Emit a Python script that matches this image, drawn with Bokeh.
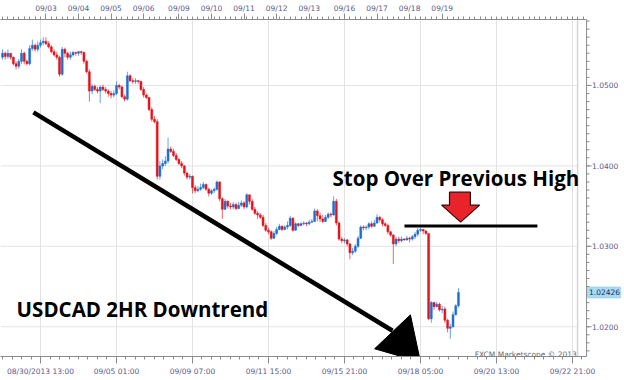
import numpy as np
from bokeh.plotting import figure
from bokeh.models import Range1d, LinearAxis, FixedTicker, Label, Span, ColumnDataSource
from bokeh.core.properties import value
from bokeh.embed import file_html
from bokeh.resources import INLINE

# ---------------- data (USDCAD 2-hour candles) ----------------
first_open = 1.0535
close = [1.0540, 1.0536, 1.0540, 1.0535, 1.0527, 1.0524, 1.0530, 1.0540, 1.0530, 1.0527,
         1.0546, 1.0550, 1.0545, 1.0550, 1.0553, 1.0555, 1.0552, 1.0548, 1.0542, 1.0538,
         1.0535, 1.0514, 1.0545, 1.0540, 1.0535, 1.0538, 1.0541, 1.0540, 1.0542, 1.0541,
         1.0530, 1.0517, 1.0493, 1.0499, 1.0495, 1.0493, 1.0498, 1.0495, 1.0493, 1.0490,
         1.0488, 1.0490, 1.0500, 1.0498, 1.0486, 1.0483, 1.0512, 1.0506, 1.0505, 1.0506,
         1.0505, 1.0495, 1.0488, 1.0485, 1.0470, 1.0458, 1.0455, 1.0387, 1.0400, 1.0403,
         1.0406, 1.0421, 1.0418, 1.0413, 1.0408, 1.0403, 1.0400, 1.0391, 1.0386, 1.0387,
         1.0373, 1.0369, 1.0371, 1.0373, 1.0377, 1.0371, 1.0366, 1.0369, 1.0371, 1.0380,
         1.0359, 1.0346, 1.0356, 1.0350, 1.0349, 1.0352, 1.0347, 1.0351, 1.0354, 1.0349,
         1.0364, 1.0356, 1.0346, 1.0341, 1.0339, 1.0336, 1.0326, 1.0320, 1.0318, 1.0310,
         1.0316, 1.0321, 1.0325, 1.0321, 1.0324, 1.0326, 1.0335, 1.0320, 1.0328, 1.0326,
         1.0328, 1.0329, 1.0328, 1.0330, 1.0331, 1.0344, 1.0338, 1.0334, 1.0331, 1.0336,
         1.0340, 1.0339, 1.0356, 1.0329, 1.0309, 1.0307, 1.0308, 1.0303, 1.0292, 1.0294,
         1.0300, 1.0310, 1.0324, 1.0323, 1.0324, 1.0328, 1.0325, 1.0329, 1.0336, 1.0333,
         1.0328, 1.0326, 1.0318, 1.0314, 1.0303, 1.0309, 1.0307, 1.0309, 1.0308, 1.0310,
         1.0309, 1.0312, 1.0315, 1.0320, 1.0321, 1.0319, 1.0316, 1.0210, 1.0230, 1.0225,
         1.0228, 1.0221, 1.0222, 1.0208, 1.0198, 1.0200, 1.0215, 1.0226, 1.02426]
high = [1.0545, 1.0542, 1.0545, 1.0540, 1.0536, 1.0530, 1.0533, 1.0545, 1.0542, 1.0532,
        1.0550, 1.0557, 1.0552, 1.0555, 1.0557, 1.0560, 1.0560, 1.0555, 1.0550, 1.0545,
        1.0542, 1.0537, 1.0548, 1.0547, 1.0542, 1.0542, 1.0543, 1.0542, 1.0543, 1.0543,
        1.0542, 1.0532, 1.0520, 1.0502, 1.0501, 1.0498, 1.0500, 1.0501, 1.0498, 1.0495,
        1.0493, 1.0494, 1.0505, 1.0502, 1.0500, 1.0489, 1.0517, 1.0514, 1.0509, 1.0509,
        1.0507, 1.0506, 1.0498, 1.0490, 1.0486, 1.0473, 1.0462, 1.0458, 1.0406, 1.0408,
        1.0412, 1.0435, 1.0424, 1.0421, 1.0416, 1.0410, 1.0406, 1.0401, 1.0393, 1.0390,
        1.0388, 1.0376, 1.0375, 1.0378, 1.0380, 1.0378, 1.0373, 1.0371, 1.0373, 1.0382,
        1.0381, 1.0361, 1.0359, 1.0357, 1.0354, 1.0355, 1.0354, 1.0355, 1.0357, 1.0356,
        1.0366, 1.0364, 1.0359, 1.0349, 1.0344, 1.0341, 1.0339, 1.0329, 1.0323, 1.0320,
        1.0319, 1.0324, 1.0328, 1.0326, 1.0326, 1.0331, 1.0338, 1.0336, 1.0330, 1.0329,
        1.0330, 1.0331, 1.0330, 1.0333, 1.0334, 1.0347, 1.0346, 1.0342, 1.0339, 1.0339,
        1.0342, 1.0342, 1.0362, 1.0359, 1.0331, 1.0312, 1.0310, 1.0309, 1.0304, 1.0298,
        1.0303, 1.0313, 1.0326, 1.0326, 1.0326, 1.0330, 1.0331, 1.0333, 1.0340, 1.0338,
        1.0335, 1.0330, 1.0328, 1.0319, 1.0315, 1.0312, 1.0312, 1.0312, 1.0310, 1.0313,
        1.0312, 1.0314, 1.0318, 1.0323, 1.0323, 1.0321, 1.0320, 1.0316, 1.0232, 1.0231,
        1.0231, 1.0230, 1.0226, 1.0225, 1.0210, 1.0204, 1.0219, 1.0228, 1.0248]
low = [1.0532, 1.0532, 1.0533, 1.0532, 1.0525, 1.0520, 1.0521, 1.0527, 1.0526, 1.0525,
       1.0525, 1.0543, 1.0542, 1.0542, 1.0547, 1.0550, 1.0550, 1.0546, 1.0540, 1.0536,
       1.0532, 1.0511, 1.0512, 1.0535, 1.0532, 1.0532, 1.0536, 1.0537, 1.0537, 1.0538,
       1.0527, 1.0515, 1.0480, 1.0489, 1.0493, 1.0490, 1.0478, 1.0493, 1.0490, 1.0486,
       1.0484, 1.0485, 1.0488, 1.0495, 1.0484, 1.0480, 1.0481, 1.0504, 1.0502, 1.0502,
       1.0502, 1.0493, 1.0485, 1.0483, 1.0468, 1.0455, 1.0453, 1.0383, 1.0383, 1.0396,
       1.0400, 1.0403, 1.0416, 1.0411, 1.0406, 1.0401, 1.0397, 1.0388, 1.0383, 1.0383,
       1.0366, 1.0366, 1.0367, 1.0369, 1.0371, 1.0369, 1.0362, 1.0364, 1.0366, 1.0369,
       1.0356, 1.0334, 1.0345, 1.0347, 1.0346, 1.0346, 1.0345, 1.0346, 1.0349, 1.0346,
       1.0347, 1.0352, 1.0344, 1.0339, 1.0334, 1.0334, 1.0324, 1.0318, 1.0315, 1.0308,
       1.0309, 1.0314, 1.0320, 1.0319, 1.0320, 1.0321, 1.0324, 1.0318, 1.0319, 1.0324,
       1.0325, 1.0326, 1.0325, 1.0326, 1.0329, 1.0330, 1.0331, 1.0330, 1.0329, 1.0330,
       1.0334, 1.0336, 1.0338, 1.0326, 1.0307, 1.0304, 1.0304, 1.0300, 1.0284, 1.0289,
       1.0292, 1.0298, 1.0309, 1.0320, 1.0320, 1.0321, 1.0323, 1.0324, 1.0328, 1.0330,
       1.0325, 1.0324, 1.0315, 1.0312, 1.0278, 1.0300, 1.0304, 1.0305, 1.0307, 1.0307,
       1.0305, 1.0307, 1.0309, 1.0312, 1.0318, 1.0315, 1.0314, 1.0208, 1.0205, 1.0221,
       1.0224, 1.0219, 1.0217, 1.0205, 1.0193, 1.0185, 1.0199, 1.0214, 1.0224]

bottom_tick_bars = [14, 42, 70, 98, 126, 154, 182, 210]
bottom_tick_labels = ["08/30/2013 13:00", "09/05 01:00", "09/09 07:00", "09/11 15:00",
                      "09/15 21:00", "09/18 05:00", "09/20 13:00", "09/22 21:00"]
day_tick_bars = [16, 28, 40, 52, 65, 77, 89, 101, 113, 126, 138, 150, 162]
day_tick_labels = ["09/03", "09/04", "09/05", "09/06", "09/09", "09/10", "09/11",
                   "09/12", "09/13", "09/16", "09/17", "09/18", "09/19"]
price_ticks = [1.0200, 1.0300, 1.0400, 1.0500]
price_tick_labels = ["1.0200", "1.0300", "1.0400", "1.0500"]

# annotation geometry (drawn on the chart, in bar / price units)
trend_x = [11.4, 143.7]
trend_y = [1.04665, 1.01950]
head_x = [137.1, 150.3, 153.6, 145.9]
head_y = [1.01726, 1.02148, 1.01627, 1.01640]
stop_x = [148.1, 197.1]
stop_y = [1.03252, 1.03252]
arrow_x = [164.7, 172.4, 172.4, 175.8, 168.8, 161.8, 164.7]
arrow_y = [1.03673, 1.03673, 1.03512, 1.03512, 1.03301, 1.03512, 1.03512]

# ---------------- build ----------------
n = len(close)
x = np.arange(n)
c = np.array(close)
o = np.array([first_open] + close[:-1])
up = c >= o
BLUE, RED = "#1b6fd3", "#e3121b"
colors = [BLUE if u else RED for u in up]
src = ColumnDataSource(dict(x=x, top=np.maximum(o, c), bottom=np.minimum(o, c),
                            high=high, low=low, color=colors))

x_start, x_end = -0.74, 229.18
y_start, y_end = 1.0163, 1.0582
AXIS_X = 215.2      # right price axis position (bar units)
FRAME_R = 211.9     # inner frame border
PX = 1 / 2.714      # one pixel in bar units
PY = 0.000124       # one pixel in price units

p = figure(width=624, height=380, x_range=Range1d(x_start, x_end), y_range=Range1d(y_start, y_end),
           output_backend="svg", toolbar_location=None, y_axis_location=None,
           min_border_left=0, min_border_right=0, min_border_top=18, min_border_bottom=24)
p.background_fill_color = "white"
p.border_fill_color = "white"
p.outline_line_color = None

AX_FONT = "DejaVu Sans"
LBL_COLOR = "#5a5a8a"
AX_COLOR = "#8c8c8c"
GRID = "#e3e3e3"

def style_axis(ax):
    ax.axis_line_color = AX_COLOR
    ax.major_tick_line_color = AX_COLOR
    ax.minor_tick_line_color = AX_COLOR
    ax.major_label_text_font = AX_FONT
    ax.major_label_text_font_size = "7.5px"
    ax.major_label_text_color = LBL_COLOR
    ax.major_tick_in = 0
    ax.minor_tick_in = 0
    ax.bounds = (x_start, AXIS_X)

# bottom axis
bx = p.xaxis[0]
bx.ticker = FixedTicker(ticks=bottom_tick_bars,
                        minor_ticks=[b + 3.5 * k for b in [-14] + bottom_tick_bars for k in range(1, 8)
                                     if b + 3.5 * k < AXIS_X])
bx.major_label_overrides = {t: l for t, l in zip(bottom_tick_bars, bottom_tick_labels)}
style_axis(bx)
bx.major_tick_out = 7
bx.minor_tick_out = 3
bx.major_label_standoff = 3

# top axis (days)
tx = LinearAxis()
tx.ticker = FixedTicker(ticks=day_tick_bars, minor_ticks=list(range(0, 216, 2)))
tx.major_label_overrides = {t: l for t, l in zip(day_tick_bars, day_tick_labels)}
style_axis(tx)
tx.major_tick_out = 6
tx.minor_tick_out = 3
tx.major_label_standoff = 1
p.add_layout(tx, "above")

p.xgrid.ticker = FixedTicker(ticks=bottom_tick_bars)
p.xgrid.grid_line_color = GRID
p.ygrid.visible = False

# horizontal grid lines, stopping at the inner frame
p.segment(x0=x_start, x1=FRAME_R, y0=price_ticks, y1=price_ticks, line_color=GRID, line_width=1)
# inner frame border on the right
p.segment(x0=FRAME_R, x1=FRAME_R, y0=y_start, y1=y_end, line_color="#d6d6d6", line_width=1.5)

# right price axis (drawn inside the widened frame)
minor_prices = [round(1.016 + 0.001 * k, 3) for k in range(43)]
p.segment(x0=AXIS_X, x1=AXIS_X, y0=y_start - PY, y1=y_end, line_color=AX_COLOR, line_width=1)
p.segment(x0=AXIS_X, x1=AXIS_X + 3 * PX, y0=minor_prices, y1=minor_prices, line_color=AX_COLOR, line_width=1)
p.segment(x0=AXIS_X, x1=AXIS_X + 5 * PX, y0=price_ticks, y1=price_ticks, line_color=AX_COLOR, line_width=1)
p.text(x=AXIS_X + 5.5 * PX, y=price_ticks, text=price_tick_labels, text_font=value(AX_FONT),
       text_font_size="7.5px", text_color=LBL_COLOR, text_baseline="middle", text_align="left")

# last price marker
last = close[-1]
p.quad(left=AXIS_X + 1 * PX, right=AXIS_X + 34 * PX, bottom=last - 5.5 * PY, top=last + 5.5 * PY,
       fill_color="#a9dcf4", line_color="#8ccbe9", line_width=0.6)
p.text(x=AXIS_X + 2.5 * PX, y=[last], text=[f"{last:.5f}"], text_font=value(AX_FONT),
       text_font_size="7.5px", text_color="#1e2a5a", text_baseline="middle", text_align="left")

# candles
p.segment(x0="x", y0="high", x1="x", y1="low", source=src, line_color="color", line_width=1, line_alpha=0.65)
p.vbar(x="x", width=0.72, top="top", bottom="bottom", source=src,
       fill_color="color", line_color="color", line_width=0.5)

# annotations
p.line(trend_x, trend_y, line_color="black", line_width=4.5)
p.patch(head_x, head_y, fill_color="black", line_color="black", line_width=1)
p.line(stop_x, stop_y, line_color="black", line_width=3)
p.patch(arrow_x, arrow_y, fill_color="#e8232a", line_color="#2a0a0a", line_width=1.2)

p.add_layout(Label(x=121.6, y=1.03748 + 8 * PY, text="Stop Over Previous High", text_font="Open Sans",
                   text_font_style="bold", text_font_size="20.5px", text_color="black",
                   text_baseline="alphabetic"))
p.add_layout(Label(x=5.2, y=1.02123 + 8 * PY, text="USDCAD 2HR Downtrend", text_font="Open Sans",
                   text_font_style="bold", text_font_size="20.5px", text_color="black",
                   text_baseline="alphabetic"))
p.add_layout(Label(x=FRAME_R - 0.3, y=1.0165, text="FXCM Marketscope © 2013", text_font=AX_FONT,
                   text_font_size="7.5px", text_color="#6b6b6b", text_align="right",
                   text_baseline="alphabetic"))

open("out.html", "w").write(file_html(p, INLINE))
